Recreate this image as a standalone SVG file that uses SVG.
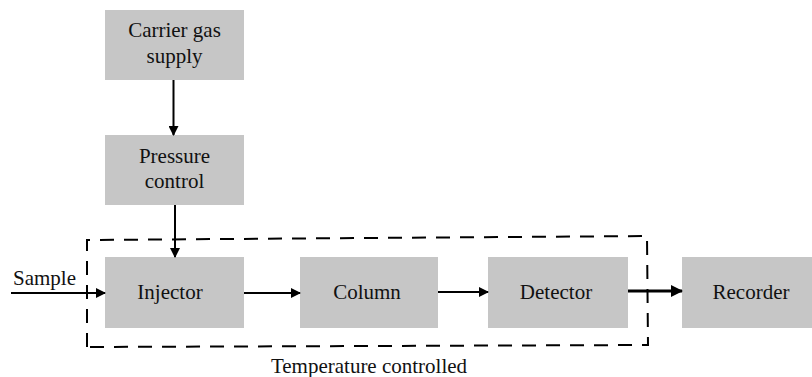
<svg xmlns="http://www.w3.org/2000/svg" width="812" height="377" viewBox="0 0 812 377">
<style>
.box{fill:#c6c6c6}
.t{font-family:'Liberation Serif','Times New Roman',Times,serif;font-size:21px;fill:#111;text-anchor:middle}
.c{stroke:#000;stroke-width:2;fill:none}
</style>
<defs>
<marker id="ah" markerWidth="10" markerHeight="10" refX="9" refY="5" orient="auto" markerUnits="userSpaceOnUse">
<path d="M0,0 L10,5 L0,10 Z" fill="#000"/>
</marker>
<marker id="ah2" markerWidth="12" markerHeight="12" refX="11" refY="6" orient="auto" markerUnits="userSpaceOnUse">
<path d="M0,0 L12,6 L0,12 Z" fill="#000"/>
</marker>
</defs>
<rect x="0" y="0" width="812" height="377" fill="#fff"/>
<g id="temp-zone">
<path d="M87,347 L87,240 L647,236 L648,345 Z" fill="none" stroke="#000" stroke-width="2" stroke-dasharray="14,10"/>
<text class="t" x="369" y="373">Temperature controlled</text>
</g>
<g id="carrier"><rect class="box" x="105" y="10" width="139" height="70"/><text class="t" x="174.5" y="37">Carrier gas</text><text class="t" x="174.5" y="63">supply</text></g>
<g id="pressure"><rect class="box" x="105" y="135" width="139" height="70"/><text class="t" x="174.5" y="163">Pressure</text><text class="t" x="174.5" y="188">control</text></g>
<g id="injector"><rect class="box" x="105" y="257" width="139" height="71"/><text class="t" x="170" y="299">Injector</text></g>
<g id="column"><rect class="box" x="300" y="257" width="138" height="71"/><text class="t" x="367" y="299">Column</text></g>
<g id="detector"><rect class="box" x="488" y="257" width="140" height="71"/><text class="t" x="556" y="299">Detector</text></g>
<g id="recorder"><rect class="box" x="682" y="257" width="130" height="71"/><text class="t" x="751" y="299">Recorder</text></g>
<g id="sample-label"><text class="t" x="44.5" y="285">Sample</text></g>
<g id="connectors">
<line class="c" x1="173.5" y1="80" x2="173.5" y2="135" marker-end="url(#ah)"/>
<line class="c" x1="175" y1="205" x2="175" y2="257" marker-end="url(#ah)"/>
<line class="c" x1="11" y1="293" x2="105" y2="293" marker-end="url(#ah)"/>
<line class="c" x1="244" y1="293" x2="300" y2="293" marker-end="url(#ah)"/>
<line class="c" x1="438" y1="292" x2="488" y2="292" marker-end="url(#ah)"/>
<line x1="628" y1="291" x2="682" y2="291" stroke="#000" stroke-width="3" marker-end="url(#ah2)"/>
</g>
</svg>
